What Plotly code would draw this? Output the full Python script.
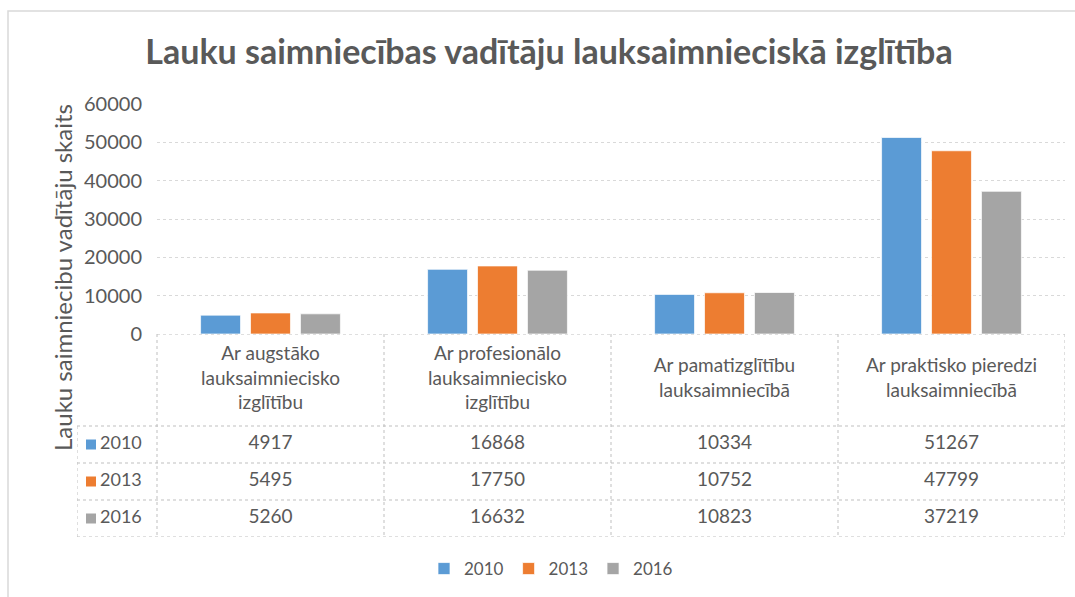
import plotly.graph_objects as go

W, H = 1075, 597

categories = [
    "Ar augstāko<br>lauksaimniecisko<br>izglītību",
    "Ar profesionālo<br>lauksaimniecisko<br>izglītību",
    "Ar pamatizglītību<br>lauksaimniecībā",
    "Ar praktisko pieredzi<br>lauksaimniecībā",
]
years = ["2010", "2013", "2016"]
v2010 = [4917, 16868, 10334, 51267]
v2013 = [5495, 17750, 10752, 47799]
v2016 = [5260, 16632, 10823, 37219]
colors = ["#5B9BD5", "#ED7D31", "#A5A5A5"]
series = [v2010, v2013, v2016]
yticks = [0, 10000, 20000, 30000, 40000, 50000, 60000]

title = "Lauku saimniecības vadītāju lauksaimnieciskā izglītība"
ytitle = "Lauku saimniecibu vadītāju skaits"

FONT = "Lato"
TXT = "#595959"
LINE = "#BFBFBF"

# layout geometry (pixels)
PLOT_L, PLOT_R = 157, 1065
PLOT_T, PLOT_B = 104, 334
TAB_L, TAB_B = 77, 537
HEAD_H, ROW_H = 92, 37

def px_x(x):
    return x / W

def px_y(y):
    return 1 - y / H

ncat = len(categories)
nrow = len(years)
unit = (PLOT_R - PLOT_L) / ncat            # pixels per category
lab_w = (PLOT_L - TAB_L) / unit            # label column width in category units
head_units = HEAD_H / ROW_H                 # header height in row units
x_idx = list(range(ncat))
y_idx = list(range(nrow))

fig = go.Figure()
for name, vals, col in zip(years, series, colors):
    fig.add_trace(go.Bar(
        x=x_idx, y=vals, name=name, marker_color=col,
        marker_line=dict(color="rgba(255,255,255,0.7)", width=1),
        xaxis="x", yaxis="y", hoverinfo="x+y+name",
    ))

# ---- data table drawn on its own axes (x2 = category index, y2 = row index)
fig.add_trace(go.Scatter(
    x=x_idx, y=[-0.5 - head_units / 2] * ncat, text=categories,
    mode="text", textposition="middle center",
    textfont=dict(family=FONT, size=19, color=TXT),
    xaxis="x2", yaxis="y2", showlegend=False, hoverinfo="skip",
))
for r, vals in enumerate(series):
    fig.add_trace(go.Scatter(
        x=x_idx, y=[r] * ncat, text=[str(v) for v in vals],
        mode="text", textposition="middle center",
        textfont=dict(family=FONT, size=19, color=TXT),
        xaxis="x2", yaxis="y2", showlegend=False, hoverinfo="skip",
    ))
fig.add_trace(go.Scatter(
    x=[-0.5 - lab_w + 23 / unit] * nrow, y=y_idx, text=years,
    mode="text", textposition="middle right",
    textfont=dict(family=FONT, size=18, color=TXT),
    xaxis="x2", yaxis="y2", showlegend=False, hoverinfo="skip",
))
fig.add_trace(go.Scatter(
    x=[-0.5 - lab_w + 14 / unit] * nrow, y=y_idx,
    mode="markers", marker=dict(symbol="square", size=10, color=colors),
    xaxis="x2", yaxis="y2", showlegend=False, hoverinfo="skip",
))

# table grid lines
shapes = []
top = -0.5 - head_units
left = -0.5 - lab_w
right = ncat - 0.5
bottom = nrow - 0.5
ln = dict(color=LINE, width=1, dash="dot")
shapes.append(dict(type="line", xref="x2", yref="y2", x0=-0.5, x1=right, y0=top, y1=top, line=ln))
for k in range(nrow + 1):
    yy = k - 0.5
    shapes.append(dict(type="line", xref="x2", yref="y2", x0=left, x1=right, y0=yy, y1=yy, line=ln))
shapes.append(dict(type="line", xref="x2", yref="y2", x0=left, x1=left, y0=-0.5, y1=bottom, line=ln))
for k in range(ncat + 1):
    xx = k - 0.5
    shapes.append(dict(type="line", xref="x2", yref="y2", x0=xx, x1=xx, y0=top, y1=bottom, line=ln))
# chart border
shapes.append(dict(type="rect", xref="paper", yref="paper",
                   x0=px_x(8), x1=px_x(1090), y0=px_y(612), y1=px_y(11),
                   line=dict(color="#D9D9D9", width=1.5), layer="below"))

fig.update_layout(
    width=W, height=H,
    margin=dict(l=0, r=0, t=0, b=0, pad=0, autoexpand=False),
    paper_bgcolor="white", plot_bgcolor="white",
    font=dict(family=FONT, color=TXT),
    barmode="group", bargap=0.34, bargroupgap=0.2,
    title=dict(text=f"<b>{title}</b>", x=px_x(549), xanchor="center",
               y=px_y(52), yanchor="middle",
               font=dict(family=FONT, size=34, color=TXT)),
    xaxis=dict(domain=[px_x(PLOT_L), px_x(PLOT_R)], range=[-0.5, ncat - 0.5],
               showticklabels=False, showgrid=False, zeroline=False,
               showline=False, ticks=""),
    yaxis=dict(domain=[px_y(PLOT_B), px_y(PLOT_T)], range=[0, 60000],
               tickvals=yticks, tickformat="d", ticks="", ticklabelstandoff=14,
               tickfont=dict(family=FONT, size=20, color=TXT),
               showgrid=True, gridcolor="#D9D9D9", griddash="dot",
               zeroline=False, showline=False),
    xaxis2=dict(domain=[px_x(TAB_L), px_x(PLOT_R)], range=[left, right],
                anchor="y2", visible=False, showgrid=False, zeroline=False),
    yaxis2=dict(domain=[px_y(TAB_B), px_y(PLOT_B)], range=[bottom, top],
                anchor="x2", visible=False, showgrid=False, zeroline=False),
    legend=dict(orientation="h", x=px_x(551), xanchor="center",
                y=px_y(569), yanchor="middle",
                font=dict(family=FONT, size=17, color=TXT),
                itemwidth=30, tracegroupgap=0),
    annotations=[dict(text=ytitle, textangle=-90, x=px_x(62), y=px_y(278),
                      xref="paper", yref="paper", showarrow=False,
                      xanchor="center", yanchor="middle",
                      font=dict(family=FONT, size=24, color=TXT))],
    shapes=shapes,
)

fig.write_html("out.html", config={"displayModeBar": False},
               post_script="document.body.style.margin='0';")
